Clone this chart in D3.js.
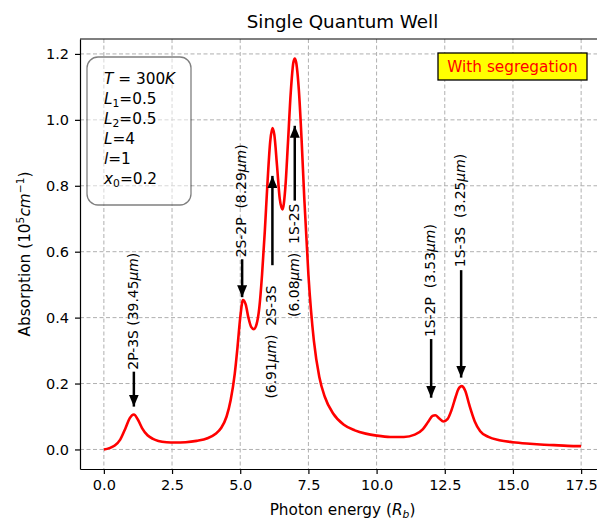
<!DOCTYPE html>
<html>
<head>
<meta charset="utf-8">
<script src="https://cdn.jsdelivr.net/npm/d3@7"></script>
<style>
  body { margin: 0; background: #fff; }
  svg { font-family: "DejaVu Sans", sans-serif; }
  text { white-space: pre; }
</style>
</head>
<body>
<svg width="597" height="522"></svg>
<script>
// photon energy (R_b) and absorption (10^5 cm^-1)
const energy = [
  0.0, 0.2, 0.4, 0.6, 0.8, 0.95, 1.1, 1.25, 1.4, 1.6, 1.8, 2.0, 2.3, 2.6, 3.0, 3.4, 3.8,
  4.1, 4.3, 4.5, 4.65, 4.8, 4.9, 5.0, 5.1, 5.2, 5.3, 5.4, 5.5, 5.6, 5.7, 5.8, 5.9, 6.0,
  6.1, 6.18, 6.25, 6.35, 6.45, 6.55, 6.65, 6.75, 6.85, 6.95, 7.0, 7.05, 7.15, 7.25, 7.35,
  7.5, 7.7, 7.9, 8.1, 8.4, 8.8, 9.2, 9.6, 10.0, 10.5, 11.0, 11.4, 11.7, 11.9, 12.05, 12.15,
  12.3, 12.45, 12.6, 12.75, 12.9, 13.0, 13.12, 13.25, 13.4, 13.6, 13.8, 14.1, 14.5, 15.0,
  15.5, 16.0, 16.5, 17.0, 17.5
];
const absorption = [
  0.000, 0.004, 0.012, 0.030, 0.066, 0.095, 0.106, 0.090, 0.065, 0.043, 0.032, 0.026, 0.022, 0.021, 0.022, 0.026, 0.034,
  0.048, 0.065, 0.100, 0.150, 0.230, 0.310, 0.400, 0.453, 0.440, 0.400, 0.372, 0.365, 0.380, 0.430, 0.530, 0.660, 0.810,
  0.935, 0.975, 0.955, 0.860, 0.760, 0.728, 0.790, 0.930, 1.080, 1.175, 1.186, 1.175, 1.090, 0.940, 0.760,
  0.530, 0.330, 0.220, 0.160, 0.110, 0.075, 0.058, 0.048, 0.042, 0.038, 0.038, 0.045, 0.062, 0.085, 0.102, 0.104,
  0.094, 0.085, 0.092, 0.120, 0.160, 0.183, 0.192, 0.178, 0.135, 0.085, 0.055, 0.038, 0.028, 0.022,
  0.018, 0.015, 0.013, 0.011, 0.010
];

const xTicks = [0, 2.5, 5, 7.5, 10, 12.5, 15, 17.5];
const yTicks = [0, 0.2, 0.4, 0.6, 0.8, 1.0, 1.2];

const paramLines = ["$T = 300K$", "$L_1$=0.5", "$L_2$=0.5", "$L$=4", "$l$=1", "$x_0$=0.2"];

// transition labels: arrow x, arrow tip, arrow tail, text end (all data units)
const annLabels = [
  "2P-3S (39.45$μm$)", "2S-2P  (8.29$μm$)", "(6.91$μm$)  2S-3S",
  "(6.08$μm$)  1S-2S", "1S-2P  (3.53$μm$)", "1S-3S  (3.25$μm$)"
];
const annX    = [1.1, 5.07, 6.18, 7.0, 12.0, 13.1];
const annTip  = [0.13, 0.462, 0.83, 0.982, 0.157, 0.218];
const annTail = [0.236, 0.577, 0.559, 0.755, 0.335, 0.544];
const annText = [0.242, 0.583, 0.498, 0.746, 0.341, 0.553];

const svg = d3.select("svg");

const margin = { left: 80, right: 605, top: 39, bottom: 469 };

const x = d3.scaleLinear().domain([-0.875, 18.375]).range([margin.left, margin.right]);
const y = d3.scaleLinear().domain([-0.0593, 1.2453]).range([margin.bottom, margin.top]);

// renders a string where $...$ parts are set like mathtext (italic letters, _ and ^)
function richText(sel, str, size) {
  let offset = 0;
  function add(t, italic, level) {
    const target = level === 0 ? 0 : (level < 0 ? size * 0.22 : -size * 0.38);
    sel.append("tspan")
      .attr("dy", target - offset)
      .attr("font-size", level === 0 ? size : size * 0.7)
      .attr("font-style", italic ? "italic" : "normal")
      .text(t);
    offset = target;
  }
  function mathRun(s, level) {
    for (const c of s) {
      if (c === " ") continue;
      if (c === "=") add(" = ", false, level);
      else if (c === "-") add("\u2212", false, level);
      else add(c, /[A-Za-zμ]/.test(c), level);
    }
  }
  str.split("$").forEach((part, i) => {
    if (i % 2 === 0) {
      if (part) add(part, false, 0);
      return;
    }
    let k = 0;
    while (k < part.length) {
      const c = part[k];
      if (c === "_" || c === "^") {
        let arg;
        if (part[k + 1] === "{") {
          const e = part.indexOf("}", k);
          arg = part.slice(k + 2, e);
          k = e + 1;
        } else {
          arg = part[k + 1];
          k += 2;
        }
        mathRun(arg, c === "_" ? -1 : 1);
      } else {
        mathRun(c, 0);
        k++;
      }
    }
  });
}

// grid
svg.append("g").selectAll("line")
  .data(xTicks)
  .enter().append("line")
  .attr("x1", d => x(d)).attr("x2", d => x(d))
  .attr("y1", margin.top).attr("y2", margin.bottom)
  .attr("stroke", "#b0b0b0").attr("stroke-width", 1).attr("stroke-dasharray", "4,2.5");

svg.append("g").selectAll("line")
  .data(yTicks)
  .enter().append("line")
  .attr("x1", margin.left).attr("x2", margin.right)
  .attr("y1", d => y(d)).attr("y2", d => y(d))
  .attr("stroke", "#b0b0b0").attr("stroke-width", 1).attr("stroke-dasharray", "4,2.5");

// curve
const line = d3.line()
  .x((d, i) => x(energy[i]))
  .y(d => y(d))
  .curve(d3.curveMonotoneX);

svg.append("path")
  .datum(absorption)
  .attr("d", line)
  .attr("fill", "none")
  .attr("stroke", "red")
  .attr("stroke-width", 2.6);

// axes
const xAxis = svg.append("g")
  .attr("transform", `translate(0,${margin.bottom})`)
  .call(d3.axisBottom(x).tickValues(xTicks).tickFormat(d3.format(".1f"))
    .tickSize(5).tickSizeOuter(0).tickPadding(6));
const yAxis = svg.append("g")
  .attr("transform", `translate(${margin.left},0)`)
  .call(d3.axisLeft(y).tickValues(yTicks).tickFormat(d3.format(".1f"))
    .tickSize(5).tickSizeOuter(0).tickPadding(6));

[xAxis, yAxis].forEach(g => {
  g.select(".domain").attr("stroke", "#000").attr("stroke-width", 1.2);
  g.selectAll(".tick line").attr("stroke", "#000").attr("stroke-width", 1.2);
  g.selectAll(".tick text").attr("font-size", 14.5).attr("fill", "#000")
    .attr("font-family", "DejaVu Sans");
});

// top spine
svg.append("line")
  .attr("x1", margin.left).attr("x2", margin.right)
  .attr("y1", margin.top).attr("y2", margin.top)
  .attr("stroke", "#000").attr("stroke-width", 1.2);

// arrows
const defs = svg.append("defs");
defs.append("marker")
  .attr("id", "head")
  .attr("viewBox", "0 0 12 10")
  .attr("refX", 12).attr("refY", 5)
  .attr("markerWidth", 12).attr("markerHeight", 10)
  .attr("markerUnits", "userSpaceOnUse")
  .attr("orient", "auto")
  .append("path")
  .attr("d", "M0,0 L12,5 L0,10 Z")
  .attr("fill", "#000");

svg.append("g").selectAll("line")
  .data(annX)
  .enter().append("line")
  .attr("x1", d => x(d)).attr("x2", d => x(d))
  .attr("y1", (d, i) => y(annTail[i]))
  .attr("y2", (d, i) => y(annTip[i]))
  .attr("stroke", "#000").attr("stroke-width", 2.5)
  .attr("marker-end", "url(#head)");

annLabels.forEach((lab, i) => {
  const up = annTip[i] > annTail[i];
  const t = svg.append("text")
    .attr("transform", `translate(${x(annX[i]) - 1},${y(annText[i])}) rotate(-90)`)
    .attr("text-anchor", up ? "end" : "start")
    .attr("dominant-baseline", "central")
    .attr("fill", "#000");
  richText(t, lab, 13.9);
});

// parameter box
svg.append("rect")
  .attr("x", 87).attr("y", 57).attr("width", 104).attr("height", 148)
  .attr("rx", 11).attr("ry", 11)
  .attr("fill", "#fff").attr("fill-opacity", 0.5)
  .attr("stroke", "#000").attr("stroke-opacity", 0.5).attr("stroke-width", 1.3);

paramLines.forEach((s, i) => {
  const t = svg.append("text")
    .attr("x", 104).attr("y", 84 + i * 19.9)
    .attr("fill", "#000");
  richText(t, s, 15.3);
});

// segregation tag
svg.append("rect")
  .attr("x", 438).attr("y", 53).attr("width", 149).attr("height", 27)
  .attr("fill", "yellow").attr("stroke", "#000").attr("stroke-width", 1.3);
svg.append("text")
  .attr("x", 512.5).attr("y", 72)
  .attr("text-anchor", "middle")
  .attr("font-size", 15.3)
  .attr("fill", "red")
  .text("With segregation");

// title and axis labels
svg.append("text")
  .attr("x", (margin.left + margin.right) / 2).attr("y", 28)
  .attr("text-anchor", "middle")
  .attr("font-size", 18.3)
  .attr("fill", "#000")
  .text("Single Quantum Well");

const xl = svg.append("text")
  .attr("x", (margin.left + margin.right) / 2).attr("y", 515)
  .attr("text-anchor", "middle")
  .attr("fill", "#000");
richText(xl, "Photon energy ($R_b$)", 15.3);

const yl = svg.append("text")
  .attr("transform", `translate(30,${(margin.top + margin.bottom) / 2}) rotate(-90)`)
  .attr("text-anchor", "middle")
  .attr("fill", "#000");
richText(yl, "Absorption ($10^5cm^{-1}$)", 15.3);
</script>
</body>
</html>
